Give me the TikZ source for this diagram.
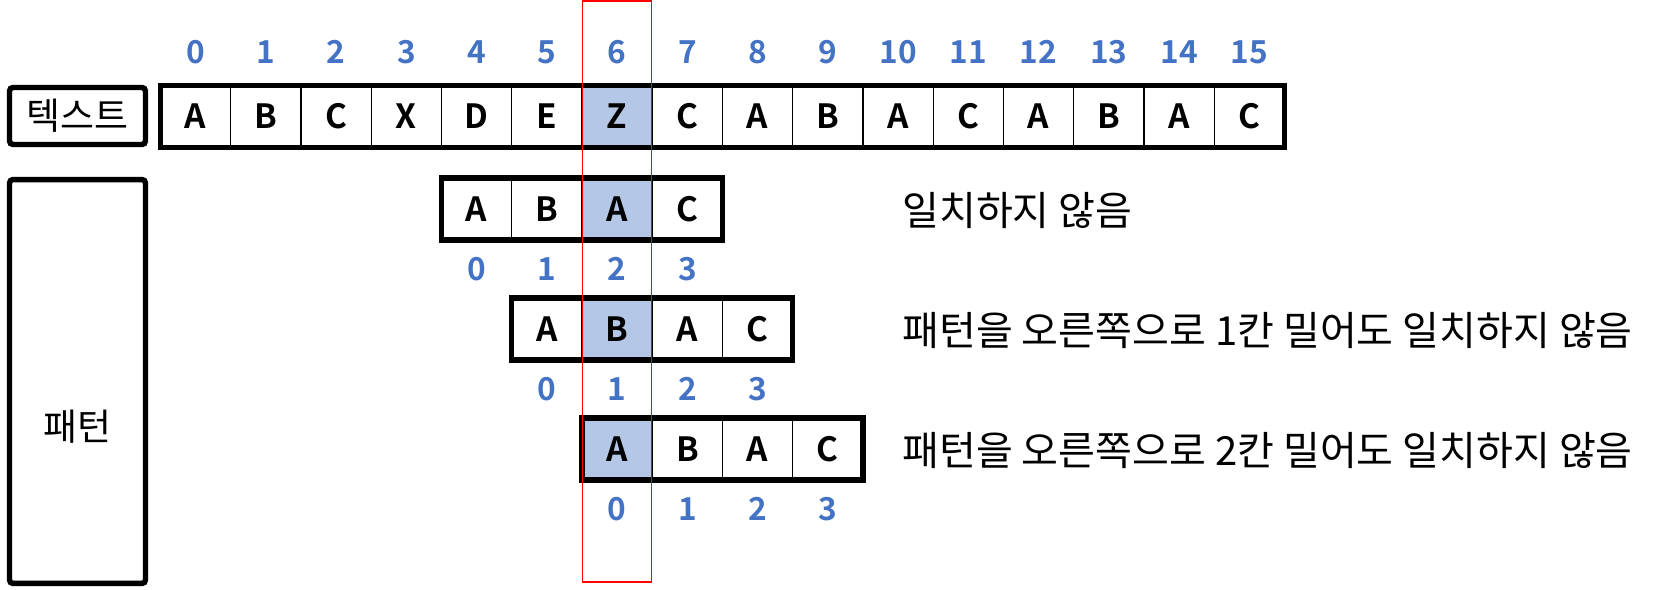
\documentclass[tikz,border=0pt]{standalone}
\usepackage{fontspec}
\setmainfont{Noto Sans CJK KR}
\newfontfamily\cellfont{Noto Sans CJK KR}[BoldFont={Noto Sans CJK KR Bold}]
\usetikzlibrary{positioning}
\definecolor{idxBlue}{RGB}{68,114,196}
\definecolor{hitBlue}{RGB}{180,199,231}
\definecolor{markRed}{RGB}{255,0,0}

\begin{document}
\begin{tikzpicture}[x=0.02cm,y=-0.02cm,
    cell/.style={draw=black,line width=0.8pt,minimum width=1.405cm,minimum height=1.24cm,
      inner sep=0pt,outer sep=0pt,font=\cellfont\bfseries\fontsize{19}{22}\selectfont},
    idx/.style={text=idxBlue,inner sep=0pt,anchor=base,font=\cellfont\bfseries\fontsize{18}{21}\selectfont},
    rowframe/.style={line width=3.1pt},
    tag/.style={draw=black,line width=3.1pt,rounded corners=2pt,inner sep=0pt,
      font=\fontsize{21}{25}\selectfont},
    note/.style={anchor=west,inner sep=0pt,font=\fontsize{22.8}{26}\selectfont}]
  \useasboundingbox (0,0) rectangle (1654,590);

  % Texte : 16 cases, la case 6 est celle qui ne correspond pas.
  \node[tag,minimum width=2.72cm,minimum height=1.14cm] (textlbl) at (77.5,116) {텍스트};
  \foreach \ch [count=\i from 0] in {A,B,C,X,D,E,Z,C,A,B,A,C,A,B,A,C} {
    \ifnum\i=6 \def\cfill{hitBlue}\else\def\cfill{white}\fi
    \node[cell,fill=\cfill] (t\i) at ({195.625+70.25*\i},116.5) {\ch};
    \node[idx] (n\i) at ({195.625+70.25*\i},63.5) {\i};
  }
  \draw[rowframe] (t0.north west) rectangle (t15.south east);

  % Motif ABAC décalé d'une case à chaque ligne.
  \node[tag,minimum width=2.72cm,minimum height=8.08cm] (patlbl) at (77.5,381.5) {};
  \node[font=\fontsize{21}{25}\selectfont,inner sep=0pt] (patname) at (77.5,427) {패턴};
  \foreach \s/\yy [count=\r] in {4/209,5/329,6/449} {
    \foreach \ch [count=\j from 0] in {A,B,A,C} {
      \pgfmathtruncatemacro\k{\s+\j}
      \ifnum\k=6 \def\cfill{hitBlue}\else\def\cfill{white}\fi
      \node[cell,fill=\cfill] (p\r-\j) at ({195.625+70.25*\k},\yy) {\ch};
      \node[idx] (q\r-\j) at ({195.625+70.25*\k},{\yy+72}) {\j};
    }
    \draw[rowframe] (p\r-0.north west) rectangle (p\r-3.south east);
  }

  \node[note] (m1) at (902,211) {일치하지 않음};
  \node[note] (m2) at (902,331) {패턴을 오른쪽으로 1칸 밀어도 일치하지 않음};
  \node[note] (m3) at (902,451) {패턴을 오른쪽으로 2칸 밀어도 일치하지 않음};

  % Colonne examinée.
  \node[draw=markRed,line width=1.1pt,inner sep=0pt,minimum width=1.38cm,
    minimum height=11.62cm] (focus) at (617,291.5) {};
\end{tikzpicture}
\end{document}
